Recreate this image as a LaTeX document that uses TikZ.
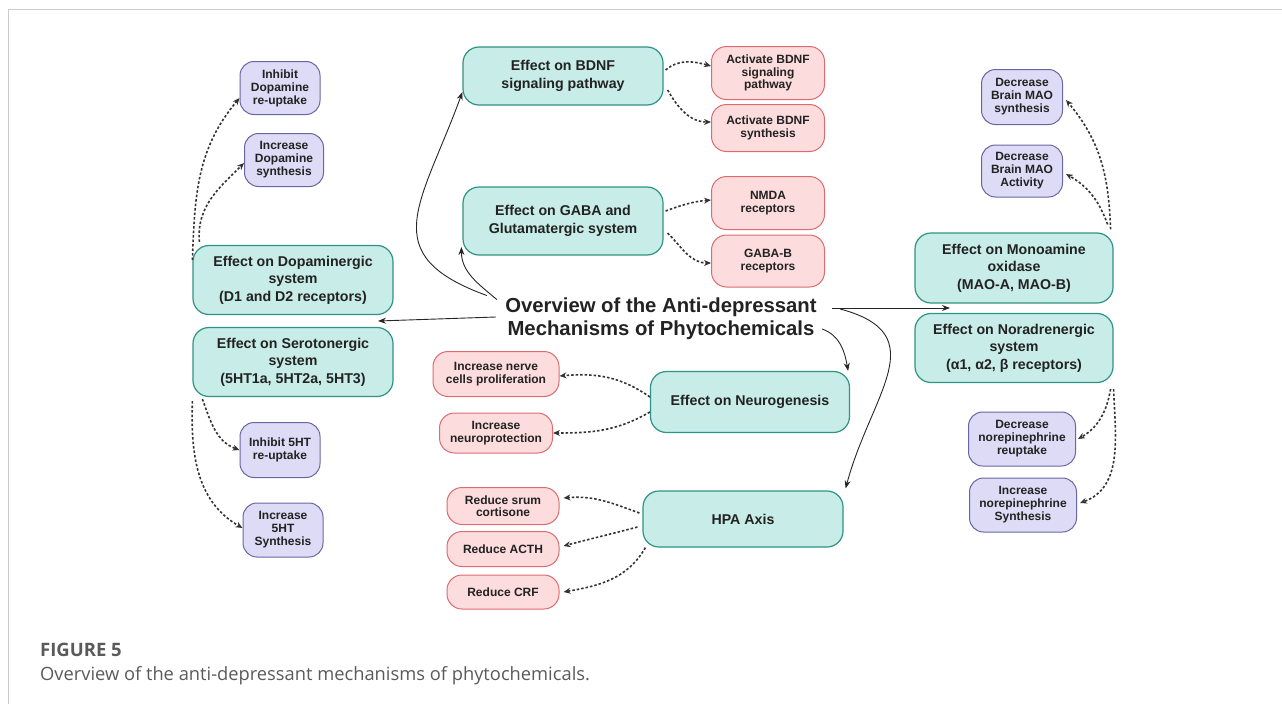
\documentclass[tikz,border=0pt]{standalone}
\usepackage{fontspec}
\setmainfont{Liberation Sans}
\newfontfamily\capfont{Open Sans}
\usetikzlibrary{arrows.meta, positioning, calc}

\definecolor{tealfill}{HTML}{C8ECE8}
\definecolor{tealline}{HTML}{2F9484}
\definecolor{redfill}{HTML}{FCDCDC}
\definecolor{redline}{HTML}{DC6B72}
\definecolor{lilacfill}{HTML}{DDDBF5}
\definecolor{lilacline}{HTML}{6C65A3}
\definecolor{inkgray}{HTML}{222222}
\definecolor{capgray}{HTML}{5A5A5A}

\tikzset{
  effectbox/.style={draw=tealline, fill=tealfill, line width=1.2pt, rounded corners=16pt,
    align=center, inner sep=0pt, text=inkgray, font=\fontsize{14.2}{17.5}\selectfont\bfseries},
  outcomebox/.style={draw=redline, fill=redfill, line width=1pt, rounded corners=15pt,
    align=center, inner sep=0pt, text=inkgray, font=\fontsize{12}{12.5}\selectfont\bfseries},
  actionbox/.style={draw=lilacline, fill=lilacfill, line width=1pt, rounded corners=14pt,
    align=center, inner sep=0pt, text=inkgray, font=\fontsize{12}{13}\selectfont\bfseries},
  mainlink/.style={-{Stealth[length=8pt,width=6pt]}, line width=0.9pt, black!85},
  sublink/.style={-{Stealth[length=7pt,width=6pt]}, line width=1.6pt, dash pattern=on 2.5pt off 2pt, black!80},
}

\begin{document}
\begin{tikzpicture}[x=1pt, y=-1pt]
\useasboundingbox (0,0) rectangle (1282,704);
% Frame
\draw[gray!40, line width=1pt] (8,704) -- (8,9) -- (1282,9);

% Title
\node[align=center, text=inkgray, font=\fontsize{20.3}{23}\selectfont\bfseries] (title) at (661,319)
  {Overview of the Anti-depressant\\Mechanisms of Phytochemicals};

% Left side
\node[effectbox, minimum width=200, minimum height=69] (dopa) at (293,280) {Effect on Dopaminergic\\system\\(D1 and D2 receptors)};
\node[effectbox, minimum width=200, minimum height=69] (sero) at (293,362) {Effect on Serotonergic\\system\\(5HT1a, 5HT2a, 5HT3)};
\node[actionbox, minimum width=80, minimum height=53] (inhdopa) at (280,88) {Inhibit\\Dopamine\\re-uptake};
\node[actionbox, minimum width=79, minimum height=53] (incdopa) at (284,160) {Increase\\Dopamine\\synthesis};
\node[actionbox, minimum width=80, minimum height=55] (inh5ht) at (280,450) {Inhibit 5HT\\re-uptake};
\node[actionbox, minimum width=80, minimum height=54] (inc5ht) at (283,530) {Increase\\5HT\\Synthesis};

% Centre
\node[effectbox, minimum width=200, minimum height=58] (bdnf) at (563,76) {Effect on BDNF\\signaling pathway};
\node[effectbox, minimum width=200, minimum height=68] (gaba) at (563,221) {Effect on GABA and\\Glutamatergic system};
\node[outcomebox, minimum width=113, minimum height=53] (actsig) at (768,73) {Activate BDNF\\signaling\\pathway};
\node[outcomebox, minimum width=113, minimum height=47] (actsyn) at (768,128) {Activate BDNF\\synthesis};
\node[outcomebox, minimum width=113, minimum height=53] (nmda) at (768,203) {NMDA\\receptors};
\node[outcomebox, minimum width=113, minimum height=52] (gabab) at (768,261) {GABA-B\\receptors};
\node[effectbox, minimum width=199, minimum height=61] (neuro) at (750,402) {Effect on Neurogenesis};
\node[outcomebox, minimum width=126, minimum height=45] (prolif) at (496,374) {Increase nerve\\cells proliferation};
\node[outcomebox, minimum width=113, minimum height=40] (protect) at (496,433) {Increase\\neuroprotection};
\node[effectbox, minimum width=200, minimum height=56] (hpa) at (743,519) {HPA Axis};
\node[outcomebox, minimum width=112, minimum height=37] (cort) at (503,506) {Reduce srum\\cortisone};
\node[outcomebox, minimum width=112, minimum height=35] (acth) at (503,549) {Reduce ACTH};
\node[outcomebox, minimum width=112, minimum height=34] (crf) at (503,592) {Reduce CRF};

% Right side
\node[effectbox, minimum width=198, minimum height=70] (mao) at (1014,268) {Effect on Monoamine\\oxidase\\(MAO-A, MAO-B)};
\node[effectbox, minimum width=198, minimum height=69] (nor) at (1014,348) {Effect on Noradrenergic\\system\\(α1, α2, β receptors)};
\node[actionbox, minimum width=81, minimum height=55] (maosyn) at (1022,97) {Decrease\\Brain MAO\\synthesis};
\node[actionbox, minimum width=81, minimum height=52] (maoact) at (1022,171) {Decrease\\Brain MAO\\Activity};
\node[actionbox, minimum width=107, minimum height=54] (nerup) at (1022,439) {Decrease\\norepinephrine\\reuptake};
\node[actionbox, minimum width=107, minimum height=54] (nersyn) at (1023,505) {Increase\\norepinephrine\\Synthesis};

% Main links from the title
\coordinate (lgap) at (378,321);
\coordinate (rgap) at (950,308);
\draw[mainlink] ([xshift=-6pt,yshift=2pt]title.west) -- (lgap);
\draw[mainlink] ([xshift=12pt,yshift=11pt]title.east) -- (rgap);
\draw[mainlink] ([xshift=-15pt,yshift=-1pt]title.north west) to[out=160, in=250, looseness=1.5] ([yshift=-16pt]bdnf.west);
\draw[mainlink] ([xshift=-5pt,yshift=-5pt]title.north west) to[out=140, in=270] ([xshift=-1pt,yshift=-26pt]gaba.west);
\draw[mainlink] ([xshift=2pt,yshift=-10pt]title.east) to[out=-20, in=100] ([xshift=-2pt]neuro.north east);
\draw[mainlink] ([xshift=20pt,yshift=10pt]title.east) to[out=-15, in=75, looseness=1.4] ([xshift=2pt,yshift=2pt]hpa.north east);

% Sub links
\draw[sublink] ([yshift=20pt]dopa.west) to[out=88, in=230] ([yshift=-10pt]inhdopa.west);
\draw[sublink] ([xshift=7pt,yshift=3pt]dopa.north west) to[out=95, in=225] ([yshift=-3pt]incdopa.west);
\draw[sublink] ([xshift=10pt,yshift=-2pt]sero.south west) to[out=-70, in=160] (inh5ht.west);
\draw[sublink] ([yshift=-4pt]sero.south west) to[out=-92, in=150] ([yshift=2pt]inc5ht.west);
\draw[sublink] ([xshift=2pt,yshift=6pt]bdnf.east) to[out=40, in=165] ([yshift=7pt]actsig.west);
\draw[sublink] ([xshift=4pt,yshift=-14pt]bdnf.east) to[out=-60, in=180] ([yshift=6pt]actsyn.west);
\draw[sublink] ([xshift=2pt,yshift=10pt]gaba.east) to[out=20, in=185] ([yshift=3pt]nmda.west);
\draw[sublink] ([xshift=4pt,yshift=-12pt]gaba.east) to[out=-45, in=180] ([yshift=-2pt]gabab.west);
\draw[sublink] ([yshift=5pt]neuro.west) to[out=145, in=5] ([yshift=-2pt]prolif.east);
\draw[sublink] ([yshift=-10pt]neuro.west) to[out=210, in=0] (protect.east);
\draw[sublink] ([xshift=-3pt,yshift=6pt]hpa.west) to[out=160, in=5] ([xshift=4pt,yshift=8pt]cort.east);
\draw[sublink] ([xshift=-5pt,yshift=-8pt]hpa.west) to[out=195, in=15] ([xshift=4pt,yshift=3pt]acth.east);
\draw[sublink] ([xshift=3pt]hpa.south west) to[out=240, in=10] ([xshift=4pt]crf.east);
\draw[sublink] ([xshift=-3pt,yshift=3pt]mao.north east) to[out=92, in=-50] ([xshift=3pt,yshift=-3pt]maosyn.east);
\draw[sublink] ([xshift=-6pt,yshift=8pt]mao.north east) to[out=110, in=-30] ([xshift=3pt,yshift=-3pt]maoact.east);
\draw[sublink] ([xshift=-3pt,yshift=-6pt]nor.south east) to[out=-100, in=30] ([xshift=2pt]nerup.east);
\draw[sublink] ([yshift=-6pt]nor.south east) to[out=-88, in=20] ([xshift=3pt,yshift=2pt]nersyn.east);

% Caption
\node[anchor=base west, inner sep=0pt, text=capgray, font=\capfont\fontsize{18.5}{22}\selectfont\bfseries] (figlabel) at (40,656) {FIGURE 5};
\node[anchor=base west, inner sep=0pt, text=capgray, font=\capfont\fontsize{18.3}{22}\selectfont] (figcaption) at (40,680) {Overview of the anti-depressant mechanisms of phytochemicals.};
\end{tikzpicture}
\end{document}
